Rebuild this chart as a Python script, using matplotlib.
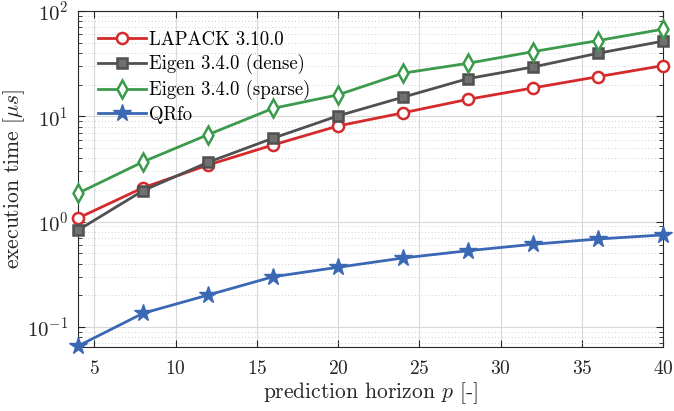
import numpy as np
import matplotlib
matplotlib.use("Agg")
import matplotlib.pyplot as plt
from matplotlib.ticker import FixedLocator, FuncFormatter, LogLocator, NullFormatter

horizon = [4, 8, 12, 16, 20, 24, 28, 32, 36, 40]
lapack = [1.08, 2.1, 3.45, 5.35, 8.1, 10.8, 14.5, 18.6, 23.8, 30.3]
eigen_dense = [0.83, 1.97, 3.66, 6.2, 10.1, 15.2, 22.8, 29.4, 39.7, 51.7]
eigen_sparse = [1.86, 3.7, 6.7, 11.9, 16.0, 25.7, 31.9, 41.1, 52.4, 67.2]
qrfo = [0.066, 0.135, 0.201, 0.30, 0.369, 0.452, 0.53, 0.61, 0.685, 0.748]
labels = ["LAPACK 3.10.0", "Eigen 3.4.0 (dense)", "Eigen 3.4.0 (sparse)", "QRfo"]
xticks = [5, 10, 15, 20, 25, 30, 35, 40]

plt.rcParams['mathtext.fontset'] = 'cm'
plt.rcParams['axes.unicode_minus'] = False

fig = plt.figure(figsize=(6.74, 4.11), dpi=100)
ax = fig.add_axes([78/674, 1-347/411, (663-78)/674, (347-11)/411])

red = '#d42a2c'
gray = '#505050'
green = '#3c9a4c'
blue = '#3a68b4'
lw = 2.0
ax.plot(horizon, lapack, '-o', color=red, lw=lw, ms=8, mfc='white', mec=red, mew=1.8, label=labels[0], clip_on=False, zorder=3)
ax.plot(horizon, eigen_dense, '-s', color=gray, lw=lw, ms=7, mfc='#707070', mec=gray, mew=1.8, label=labels[1], clip_on=False, zorder=3)
ax.plot(horizon, eigen_sparse, '-d', color=green, lw=lw, ms=9, mfc='white', mec=green, mew=1.8, label=labels[2], clip_on=False, zorder=3)
ax.plot(horizon, qrfo, '-*', color=blue, lw=lw, ms=13, mfc=blue, mec=blue, mew=1.0, label=labels[3], clip_on=False, zorder=4)

ax.set_yscale('log')
ax.set_xlim(4, 40)
ax.set_ylim(0.0646, 100)
ax.xaxis.set_major_locator(FixedLocator(xticks))
ax.yaxis.set_major_locator(FixedLocator([0.1, 1, 10, 100]))
ax.yaxis.set_minor_locator(LogLocator(base=10, subs=np.arange(2, 10)))
ax.yaxis.set_minor_formatter(NullFormatter())

def yfmt(v, pos):
    e = int(round(np.log10(v)))
    return r'$\mathsf{10^{%d}}$' % e

def xfmt(v, pos):
    return r'$\mathsf{%d}$' % v

ax.yaxis.set_major_formatter(FuncFormatter(yfmt))
ax.xaxis.set_major_formatter(FuncFormatter(xfmt))

ax.tick_params(which='both', direction='in', top=True, right=True, colors='#262626', labelcolor='#262626')
ax.tick_params(which='major', length=5)
ax.tick_params(axis='x', which='major', labelsize=14, pad=9)
ax.tick_params(axis='y', which='major', labelsize=15, pad=7)
ax.tick_params(which='minor', length=3)
for s in ax.spines.values():
    s.set_color('#262626')
    s.set_linewidth(0.8)

ax.grid(which='major', color='#d8d8d8', lw=0.8, ls='-')
ax.grid(which='minor', axis='y', color='#c0c0c0', lw=0.6, ls=(0, (1, 3)))
ax.set_axisbelow(True)

ax.set_xlabel(r'prediction horizon $p$ [-]', family='cmr10', fontsize=15.5, color='#262626', labelpad=1)
ax.set_ylabel(r'execution time [$\mu s$]', family='cmr10', fontsize=15.5, color='#262626')
ax.yaxis.set_label_coords((27 - 78) / 585, 0.5)

leg = ax.legend(loc='upper left', frameon=False, prop={'family': 'cmr10', 'size': 13.5},
                handlelength=2.55, labelspacing=0.3, borderaxespad=0.65, handletextpad=0.2)

fig.savefig('out.png', dpi=100)
